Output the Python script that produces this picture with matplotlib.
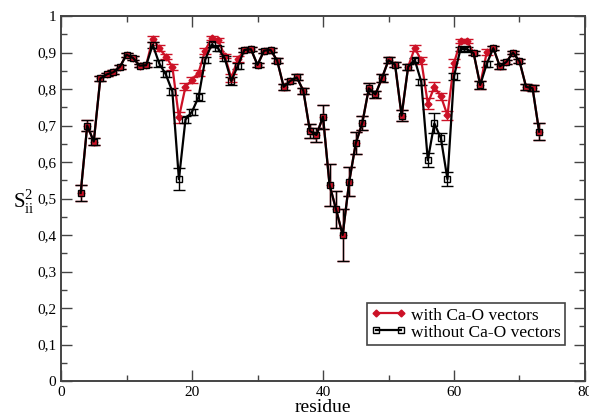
import matplotlib
matplotlib.use('Agg')
import matplotlib.pyplot as plt
from matplotlib.lines import Line2D
from matplotlib.ticker import MultipleLocator, FuncFormatter

plt.rcParams['font.family'] = ['Liberation Serif', 'DejaVu Serif']
plt.rcParams['mathtext.fontset'] = 'custom'
plt.rcParams['mathtext.rm'] = 'Liberation Serif'

# residuos 3..73
residue = list(range(3, 74))

# S2 sem vetores Ca-O
s2_without = [0.515, 0.700, 0.656, 0.829, 0.840, 0.846, 0.861, 0.894, 0.885, 0.864,
              0.865, 0.921, 0.870, 0.840, 0.793, 0.553, 0.716, 0.738, 0.778, 0.880,
              0.922, 0.911, 0.884, 0.822, 0.864, 0.907, 0.909, 0.866, 0.905, 0.907,
              0.878, 0.806, 0.822, 0.832, 0.795, 0.685, 0.674, 0.724, 0.537, 0.470,
              0.400, 0.546, 0.651, 0.707, 0.802, 0.785, 0.830, 0.879, 0.867, 0.727,
              0.861, 0.880, 0.820, 0.605, 0.706, 0.665, 0.553, 0.835, 0.910, 0.909,
              0.898, 0.811, 0.869, 0.912, 0.862, 0.874, 0.900, 0.876, 0.806, 0.802,
              0.683]
err_without = [0.022, 0.015, 0.010, 0.006, 0.005, 0.005, 0.005, 0.006, 0.005, 0.005,
               0.005, 0.008, 0.010, 0.008, 0.010, 0.030, 0.010, 0.008, 0.010, 0.008,
               0.006, 0.006, 0.006, 0.010, 0.008, 0.005, 0.005, 0.006, 0.005, 0.005,
               0.006, 0.008, 0.006, 0.008, 0.008, 0.020, 0.020, 0.033, 0.058, 0.050,
               0.070, 0.040, 0.030, 0.020, 0.015, 0.010, 0.010, 0.008, 0.008, 0.015,
               0.008, 0.006, 0.008, 0.020, 0.027, 0.015, 0.020, 0.010, 0.006, 0.006,
               0.006, 0.010, 0.008, 0.006, 0.006, 0.006, 0.005, 0.006, 0.008, 0.008,
               0.023]

# S2 com vetores Ca-O
s2_with = [0.515, 0.700, 0.656, 0.829, 0.840, 0.846, 0.861, 0.894, 0.885, 0.864,
           0.865, 0.938, 0.912, 0.889, 0.861, 0.722, 0.806, 0.825, 0.845, 0.905,
           0.940, 0.934, 0.890, 0.830, 0.882, 0.907, 0.909, 0.866, 0.905, 0.907,
           0.878, 0.806, 0.822, 0.832, 0.795, 0.685, 0.674, 0.724, 0.537, 0.470,
           0.400, 0.546, 0.651, 0.707, 0.802, 0.785, 0.830, 0.879, 0.867, 0.727,
           0.861, 0.912, 0.879, 0.760, 0.806, 0.780, 0.728, 0.871, 0.931, 0.931,
           0.898, 0.811, 0.901, 0.912, 0.862, 0.874, 0.900, 0.876, 0.806, 0.802,
           0.683]
err_with = [0.022, 0.015, 0.010, 0.006, 0.005, 0.005, 0.005, 0.006, 0.005, 0.005,
            0.005, 0.008, 0.008, 0.008, 0.008, 0.015, 0.010, 0.008, 0.008, 0.008,
            0.006, 0.006, 0.006, 0.010, 0.008, 0.005, 0.005, 0.006, 0.005, 0.005,
            0.006, 0.008, 0.006, 0.008, 0.008, 0.020, 0.020, 0.033, 0.058, 0.050,
            0.070, 0.040, 0.030, 0.020, 0.015, 0.010, 0.010, 0.008, 0.008, 0.015,
            0.008, 0.008, 0.010, 0.015, 0.012, 0.010, 0.012, 0.010, 0.006, 0.006,
            0.006, 0.010, 0.008, 0.006, 0.006, 0.006, 0.005, 0.006, 0.008, 0.008,
            0.023]

fig = plt.figure(figsize=(5.89, 4.18), dpi=100)
ax = fig.add_axes([0.1036, 0.0885, 0.8896, 0.8732])

vermelho = '#cc1126'
ax.errorbar(residue, s2_with, yerr=err_with, color=vermelho, lw=1.6,
            marker='D', ms=3.5, mfc=vermelho, mec=vermelho,
            elinewidth=1.0, capsize=4, capthick=1.0)
ax.errorbar(residue, s2_without, yerr=err_without, color='black', lw=1.6,
            marker='s', ms=4.5, mfc='none', mec='black', mew=1.0,
            elinewidth=1.0, capsize=4, capthick=1.0)

ax.set_xlim(0, 80)
ax.set_ylim(0, 1)
ax.xaxis.set_major_locator(MultipleLocator(20))
ax.xaxis.set_minor_locator(MultipleLocator(10))
ax.yaxis.set_major_locator(MultipleLocator(0.1))
ax.yaxis.set_minor_locator(MultipleLocator(0.05))
# virgula como separador decimal
ax.yaxis.set_major_formatter(FuncFormatter(lambda v, p: ('%g' % round(v, 2)).replace('.', ',')))
ax.tick_params(which='both', direction='in', top=True, right=True, width=1.0,
               labelsize=11, color='#444444')
ax.tick_params(which='major', length=8)
ax.tick_params(which='minor', length=4)
for s in ax.spines.values():
    s.set_linewidth(1.4)
    s.set_color('#444444')

ax.set_xlabel('residue', fontsize=14, labelpad=0)
ax.set_ylabel(r'$\mathrm{S}_{\mathrm{ii}}^{2}$', fontsize=15, rotation=0,
              va='center', ha='right')
ax.yaxis.set_label_coords(-0.05, 0.49)

# legenda so com linha e marcadores
handles = [Line2D([], [], color=vermelho, lw=1.6, marker='D', ms=3.5),
           Line2D([], [], color='black', lw=1.6, marker='s', ms=4, mfc='none')]
leg = ax.legend(handles, ['with Ca-O vectors', 'without Ca-O vectors'],
                loc='lower right', bbox_to_anchor=(0.962, 0.099), fontsize=12.5,
                numpoints=2, fancybox=False, edgecolor='#444444', framealpha=1,
                handlelength=2.0, handletextpad=0.3, labelspacing=0.05,
                borderpad=0.25, borderaxespad=0)
leg.get_frame().set_linewidth(1.2)

fig.savefig('out.png', dpi=100)
